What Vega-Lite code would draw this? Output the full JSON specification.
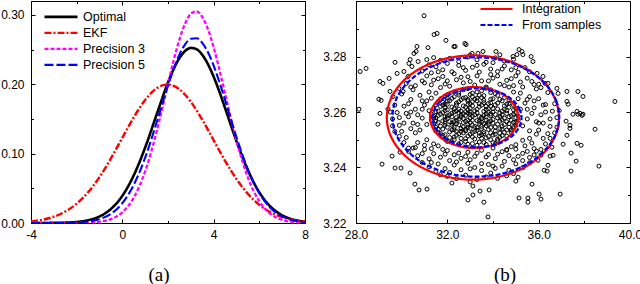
{
"$schema":"https://vega.github.io/schema/vega-lite/v6.json",
"padding":{"left":0,"top":0,"right":0,"bottom":0},
"background":"white",
"spacing":13,
"resolve":{"scale":{"color":"independent","strokeDash":"independent","strokeWidth":"independent"},"legend":{"color":"independent","strokeDash":"independent"}},
"config":{
 "view":{"stroke":"black","strokeWidth":1},
 "axis":{"grid":false,"domainColor":"black","tickColor":"black","labelColor":"black","labelFont":"Liberation Sans","labelFontSize":12,"labelFlush":false,"labelOverlap":false,"title":null,"tickWidth":1},
 "legend":{"labelFont":"Liberation Sans","labelFontSize":12.5,"labelColor":"black"},
 "title":{"font":"Liberation Serif","fontSize":19,"fontWeight":"normal","color":"black"}
},
"datasets":{
 "dens":[
  {"s":"Optimal","x":-4,"d":0.00001},{"s":"Optimal","x":-3.5,"d":0.00005},{"s":"Optimal","x":-3,"d":0.00017},{"s":"Optimal","x":-2.5,"d":0.00053},{"s":"Optimal","x":-2,"d":0.0015},{"s":"Optimal","x":-1.5,"d":0.004},{"s":"Optimal","x":-1,"d":0.0094},{"s":"Optimal","x":-0.5,"d":0.0202},{"s":"Optimal","x":0,"d":0.0392},{"s":"Optimal","x":0.5,"d":0.0687},{"s":"Optimal","x":1,"d":0.1088},{"s":"Optimal","x":1.5,"d":0.1561},{"s":"Optimal","x":2,"d":0.2025},{"s":"Optimal","x":2.25,"d":0.2221},{"s":"Optimal","x":2.5,"d":0.2377},{"s":"Optimal","x":2.75,"d":0.248},{"s":"Optimal","x":3,"d":0.2524},{"s":"Optimal","x":3.25,"d":0.2505},{"s":"Optimal","x":3.5,"d":0.2425},{"s":"Optimal","x":3.75,"d":0.2289},{"s":"Optimal","x":4,"d":0.2108},{"s":"Optimal","x":4.25,"d":0.1893},{"s":"Optimal","x":4.5,"d":0.1657},{"s":"Optimal","x":5,"d":0.1179},{"s":"Optimal","x":5.5,"d":0.0759},{"s":"Optimal","x":6,"d":0.0442},{"s":"Optimal","x":6.5,"d":0.0233},{"s":"Optimal","x":7,"d":0.0111},{"s":"Optimal","x":7.5,"d":0.0048},{"s":"Optimal","x":8,"d":0.0019},
  {"s":"EKF","x":-4,"d":0.0023},{"s":"EKF","x":-3.5,"d":0.0047},{"s":"EKF","x":-3,"d":0.0091},{"s":"EKF","x":-2.5,"d":0.0164},{"s":"EKF","x":-2,"d":0.0278},{"s":"EKF","x":-1.5,"d":0.0443},{"s":"EKF","x":-1,"d":0.0662},{"s":"EKF","x":-0.5,"d":0.0931},{"s":"EKF","x":0,"d":0.1228},{"s":"EKF","x":0.5,"d":0.1523},{"s":"EKF","x":1,"d":0.1773},{"s":"EKF","x":1.5,"d":0.1941},{"s":"EKF","x":1.75,"d":0.1983},{"s":"EKF","x":2,"d":0.1995},{"s":"EKF","x":2.25,"d":0.1975},{"s":"EKF","x":2.5,"d":0.1926},{"s":"EKF","x":2.75,"d":0.1849},{"s":"EKF","x":3,"d":0.1747},{"s":"EKF","x":3.5,"d":0.1489},{"s":"EKF","x":4,"d":0.1192},{"s":"EKF","x":4.5,"d":0.0896},{"s":"EKF","x":5,"d":0.0633},{"s":"EKF","x":5.5,"d":0.042},{"s":"EKF","x":6,"d":0.0262},{"s":"EKF","x":6.5,"d":0.0153},{"s":"EKF","x":7,"d":0.0084},{"s":"EKF","x":7.5,"d":0.0044},{"s":"EKF","x":8,"d":0.0021},
  {"s":"Precision 3","x":-4,"d":0},{"s":"Precision 3","x":-3.5,"d":0},{"s":"Precision 3","x":-3,"d":0.00001},{"s":"Precision 3","x":-2.5,"d":0.00002},{"s":"Precision 3","x":-2,"d":0.00012},{"s":"Precision 3","x":-1.5,"d":0.00049},{"s":"Precision 3","x":-1,"d":0.0018},{"s":"Precision 3","x":-0.5,"d":0.0056},{"s":"Precision 3","x":0,"d":0.0154},{"s":"Precision 3","x":0.5,"d":0.0365},{"s":"Precision 3","x":1,"d":0.0744},{"s":"Precision 3","x":1.5,"d":0.1314},{"s":"Precision 3","x":2,"d":0.2005},{"s":"Precision 3","x":2.25,"d":0.2345},{"s":"Precision 3","x":2.5,"d":0.2644},{"s":"Precision 3","x":2.75,"d":0.2875},{"s":"Precision 3","x":3,"d":0.3015},{"s":"Precision 3","x":3.25,"d":0.305},{"s":"Precision 3","x":3.5,"d":0.2971},{"s":"Precision 3","x":3.75,"d":0.2793},{"s":"Precision 3","x":4,"d":0.2532},{"s":"Precision 3","x":4.25,"d":0.2212},{"s":"Precision 3","x":4.5,"d":0.1864},{"s":"Precision 3","x":5,"d":0.1187},{"s":"Precision 3","x":5.5,"d":0.0653},{"s":"Precision 3","x":6,"d":0.0311},{"s":"Precision 3","x":6.5,"d":0.0128},{"s":"Precision 3","x":7,"d":0.0045},{"s":"Precision 3","x":7.5,"d":0.0014},{"s":"Precision 3","x":8,"d":0.0004},
  {"s":"Precision 5","x":-4,"d":0.000003},{"s":"Precision 5","x":-3.5,"d":0.00001},{"s":"Precision 5","x":-3,"d":0.00005},{"s":"Precision 5","x":-2.5,"d":0.0002},{"s":"Precision 5","x":-2,"d":0.0007},{"s":"Precision 5","x":-1.5,"d":0.0021},{"s":"Precision 5","x":-1,"d":0.0055},{"s":"Precision 5","x":-0.5,"d":0.0133},{"s":"Precision 5","x":0,"d":0.0286},{"s":"Precision 5","x":0.5,"d":0.0549},{"s":"Precision 5","x":1,"d":0.0943},{"s":"Precision 5","x":1.5,"d":0.1446},{"s":"Precision 5","x":2,"d":0.1982},{"s":"Precision 5","x":2.25,"d":0.2225},{"s":"Precision 5","x":2.5,"d":0.2427},{"s":"Precision 5","x":2.75,"d":0.2575},{"s":"Precision 5","x":3,"d":0.2656},{"s":"Precision 5","x":3.25,"d":0.2664},{"s":"Precision 5","x":3.5,"d":0.2597},{"s":"Precision 5","x":3.75,"d":0.2462},{"s":"Precision 5","x":4,"d":0.2269},{"s":"Precision 5","x":4.25,"d":0.2033},{"s":"Precision 5","x":4.5,"d":0.1771},{"s":"Precision 5","x":5,"d":0.1235},{"s":"Precision 5","x":5.5,"d":0.077},{"s":"Precision 5","x":6,"d":0.0429},{"s":"Precision 5","x":6.5,"d":0.0213},{"s":"Precision 5","x":7,"d":0.0095},{"s":"Precision 5","x":7.5,"d":0.0038},{"s":"Precision 5","x":8,"d":0.0013}
 ],
 "ell":[
  {"s":"Integration","g":"r1","k":0,"x":36.89,"y":3.258},{"s":"Integration","g":"r1","k":1,"x":36.76,"y":3.2638},{"s":"Integration","g":"r1","k":2,"x":36.39,"y":3.2692},{"s":"Integration","g":"r1","k":3,"x":35.79,"y":3.2738},{"s":"Integration","g":"r1","k":4,"x":35.01,"y":3.2774},{"s":"Integration","g":"r1","k":5,"x":34.1,"y":3.2796},{"s":"Integration","g":"r1","k":6,"x":33.12,"y":3.2804},{"s":"Integration","g":"r1","k":7,"x":32.14,"y":3.2796},{"s":"Integration","g":"r1","k":8,"x":31.24,"y":3.2774},{"s":"Integration","g":"r1","k":9,"x":30.45,"y":3.2738},{"s":"Integration","g":"r1","k":10,"x":29.86,"y":3.2692},{"s":"Integration","g":"r1","k":11,"x":29.48,"y":3.2638},{"s":"Integration","g":"r1","k":12,"x":29.35,"y":3.258},{"s":"Integration","g":"r1","k":13,"x":29.48,"y":3.2522},{"s":"Integration","g":"r1","k":14,"x":29.86,"y":3.2468},{"s":"Integration","g":"r1","k":15,"x":30.45,"y":3.2422},{"s":"Integration","g":"r1","k":16,"x":31.24,"y":3.2386},{"s":"Integration","g":"r1","k":17,"x":32.14,"y":3.2364},{"s":"Integration","g":"r1","k":18,"x":33.12,"y":3.2356},{"s":"Integration","g":"r1","k":19,"x":34.1,"y":3.2364},{"s":"Integration","g":"r1","k":20,"x":35.01,"y":3.2386},{"s":"Integration","g":"r1","k":21,"x":35.79,"y":3.2422},{"s":"Integration","g":"r1","k":22,"x":36.39,"y":3.2468},{"s":"Integration","g":"r1","k":23,"x":36.76,"y":3.2522},
  {"s":"Integration","g":"r2","k":0,"x":35.1,"y":3.258},{"s":"Integration","g":"r2","k":1,"x":35.03,"y":3.2609},{"s":"Integration","g":"r2","k":2,"x":34.84,"y":3.2635},{"s":"Integration","g":"r2","k":3,"x":34.54,"y":3.2658},{"s":"Integration","g":"r2","k":4,"x":34.14,"y":3.2675},{"s":"Integration","g":"r2","k":5,"x":33.67,"y":3.2686},{"s":"Integration","g":"r2","k":6,"x":33.17,"y":3.269},{"s":"Integration","g":"r2","k":7,"x":32.67,"y":3.2686},{"s":"Integration","g":"r2","k":8,"x":32.21,"y":3.2675},{"s":"Integration","g":"r2","k":9,"x":31.81,"y":3.2658},{"s":"Integration","g":"r2","k":10,"x":31.5,"y":3.2635},{"s":"Integration","g":"r2","k":11,"x":31.31,"y":3.2609},{"s":"Integration","g":"r2","k":12,"x":31.24,"y":3.258},{"s":"Integration","g":"r2","k":13,"x":31.31,"y":3.2552},{"s":"Integration","g":"r2","k":14,"x":31.5,"y":3.2525},{"s":"Integration","g":"r2","k":15,"x":31.81,"y":3.2502},{"s":"Integration","g":"r2","k":16,"x":32.21,"y":3.2485},{"s":"Integration","g":"r2","k":17,"x":32.67,"y":3.2474},{"s":"Integration","g":"r2","k":18,"x":33.17,"y":3.247},{"s":"Integration","g":"r2","k":19,"x":33.67,"y":3.2474},{"s":"Integration","g":"r2","k":20,"x":34.14,"y":3.2485},{"s":"Integration","g":"r2","k":21,"x":34.54,"y":3.2502},{"s":"Integration","g":"r2","k":22,"x":34.84,"y":3.2525},{"s":"Integration","g":"r2","k":23,"x":35.03,"y":3.2552},
  {"s":"From samples","g":"b1","k":0,"x":36.9,"y":3.2582},{"s":"From samples","g":"b1","k":1,"x":36.78,"y":3.2638},{"s":"From samples","g":"b1","k":2,"x":36.41,"y":3.269},{"s":"From samples","g":"b1","k":3,"x":35.83,"y":3.2734},{"s":"From samples","g":"b1","k":4,"x":35.08,"y":3.2768},{"s":"From samples","g":"b1","k":5,"x":34.2,"y":3.279},{"s":"From samples","g":"b1","k":6,"x":33.25,"y":3.2797},{"s":"From samples","g":"b1","k":7,"x":32.31,"y":3.279},{"s":"From samples","g":"b1","k":8,"x":31.43,"y":3.2768},{"s":"From samples","g":"b1","k":9,"x":30.67,"y":3.2734},{"s":"From samples","g":"b1","k":10,"x":30.09,"y":3.269},{"s":"From samples","g":"b1","k":11,"x":29.72,"y":3.2638},{"s":"From samples","g":"b1","k":12,"x":29.6,"y":3.2582},{"s":"From samples","g":"b1","k":13,"x":29.72,"y":3.2526},{"s":"From samples","g":"b1","k":14,"x":30.09,"y":3.2475},{"s":"From samples","g":"b1","k":15,"x":30.67,"y":3.243},{"s":"From samples","g":"b1","k":16,"x":31.43,"y":3.2396},{"s":"From samples","g":"b1","k":17,"x":32.31,"y":3.2374},{"s":"From samples","g":"b1","k":18,"x":33.25,"y":3.2367},{"s":"From samples","g":"b1","k":19,"x":34.2,"y":3.2374},{"s":"From samples","g":"b1","k":20,"x":35.08,"y":3.2396},{"s":"From samples","g":"b1","k":21,"x":35.83,"y":3.243},{"s":"From samples","g":"b1","k":22,"x":36.41,"y":3.2475},{"s":"From samples","g":"b1","k":23,"x":36.78,"y":3.2526},
  {"s":"From samples","g":"b2","k":0,"x":35.25,"y":3.2579},{"s":"From samples","g":"b2","k":1,"x":35.18,"y":3.2606},{"s":"From samples","g":"b2","k":2,"x":34.99,"y":3.2632},{"s":"From samples","g":"b2","k":3,"x":34.68,"y":3.2654},{"s":"From samples","g":"b2","k":4,"x":34.28,"y":3.2671},{"s":"From samples","g":"b2","k":5,"x":33.81,"y":3.2681},{"s":"From samples","g":"b2","k":6,"x":33.3,"y":3.2685},{"s":"From samples","g":"b2","k":7,"x":32.8,"y":3.2681},{"s":"From samples","g":"b2","k":8,"x":32.33,"y":3.2671},{"s":"From samples","g":"b2","k":9,"x":31.92,"y":3.2654},{"s":"From samples","g":"b2","k":10,"x":31.61,"y":3.2632},{"s":"From samples","g":"b2","k":11,"x":31.42,"y":3.2606},{"s":"From samples","g":"b2","k":12,"x":31.35,"y":3.2579},{"s":"From samples","g":"b2","k":13,"x":31.42,"y":3.2552},{"s":"From samples","g":"b2","k":14,"x":31.61,"y":3.2526},{"s":"From samples","g":"b2","k":15,"x":31.92,"y":3.2504},{"s":"From samples","g":"b2","k":16,"x":32.33,"y":3.2487},{"s":"From samples","g":"b2","k":17,"x":32.8,"y":3.2477},{"s":"From samples","g":"b2","k":18,"x":33.3,"y":3.2473},{"s":"From samples","g":"b2","k":19,"x":33.81,"y":3.2477},{"s":"From samples","g":"b2","k":20,"x":34.28,"y":3.2487},{"s":"From samples","g":"b2","k":21,"x":34.68,"y":3.2504},{"s":"From samples","g":"b2","k":22,"x":34.99,"y":3.2526},{"s":"From samples","g":"b2","k":23,"x":35.18,"y":3.2552}
 ],
 "pts":[
  {"x":30.98,"y":3.2947},{"x":31.42,"y":3.2879},{"x":31.55,"y":3.2883},{"x":31.15,"y":3.2832},{"x":30.67,"y":3.2836},{"x":30.63,"y":3.2818},{"x":30.54,"y":3.2811},{"x":29.71,"y":3.2779},{"x":28.18,"y":3.2746},{"x":28.44,"y":3.2757},{"x":29.05,"y":3.271},{"x":29.18,"y":3.2703},{"x":29.45,"y":3.2721},{"x":29.1,"y":3.2642},{"x":29.0,"y":3.2646},{"x":28.13,"y":3.261},{"x":30.32,"y":3.2775},{"x":30.72,"y":3.2782},{"x":29.88,"y":3.2685},{"x":29.49,"y":3.2674},{"x":29.62,"y":3.2656},{"x":29.4,"y":3.261},{"x":31.94,"y":3.2858},{"x":32.34,"y":3.2836},{"x":32.77,"y":3.2847},{"x":32.82,"y":3.2843},{"x":33.08,"y":3.2811},{"x":33.56,"y":3.2818},{"x":35.14,"y":3.2825},{"x":35.27,"y":3.2818},{"x":35.05,"y":3.2807},{"x":35.31,"y":3.2807},{"x":34.88,"y":3.28},{"x":35.93,"y":3.2739},{"x":36.19,"y":3.2728},{"x":36.28,"y":3.2703},{"x":36.41,"y":3.2703},{"x":36.8,"y":3.2685},{"x":36.85,"y":3.2667},{"x":37.24,"y":3.2674},{"x":37.72,"y":3.2674},{"x":37.94,"y":3.2656},{"x":39.34,"y":3.2638},{"x":37.24,"y":3.2638},{"x":37.29,"y":3.2628},{"x":37.68,"y":3.2602},{"x":37.81,"y":3.2595},{"x":37.94,"y":3.2592},{"x":38.47,"y":3.2538},{"x":37.2,"y":3.2567},{"x":37.37,"y":3.2541},{"x":35.67,"y":3.28},{"x":35.75,"y":3.2782},{"x":34.13,"y":3.2818},{"x":33.34,"y":3.2811},{"x":32.29,"y":3.2836},{"x":30.1,"y":3.2746},{"x":30.28,"y":3.2728},{"x":30.06,"y":3.2674},{"x":30.45,"y":3.2764},{"x":29.8,"y":3.2739},{"x":31.1,"y":3.2789},{"x":30.37,"y":3.2789},{"x":28.96,"y":3.2556},{"x":29.05,"y":3.2595},
  {"x":29.14,"y":3.2412},{"x":29.58,"y":3.2441},{"x":29.71,"y":3.2398},{"x":29.97,"y":3.2398},{"x":30.37,"y":3.238},{"x":30.58,"y":3.234},{"x":30.76,"y":3.2319},{"x":31.11,"y":3.2322},{"x":29.93,"y":3.2455},{"x":32.2,"y":3.2344},{"x":32.9,"y":3.2283},{"x":33.12,"y":3.2301},{"x":33.43,"y":3.2315},{"x":33.6,"y":3.2275},{"x":33.83,"y":3.2319},{"x":33.78,"y":3.2222},{"x":35.0,"y":3.2351},{"x":35.71,"y":3.234},{"x":35.14,"y":3.229},{"x":35.53,"y":3.229},{"x":35.53,"y":3.2275},{"x":36.02,"y":3.2304},{"x":36.1,"y":3.2286},{"x":36.94,"y":3.2304},{"x":37.42,"y":3.2387},{"x":37.64,"y":3.2423},{"x":37.42,"y":3.2452},{"x":38.64,"y":3.2405},{"x":36.37,"y":3.2387},{"x":36.5,"y":3.2441},{"x":33.12,"y":3.2333},{"x":37.68,"y":3.2487},{"x":37.86,"y":3.248},{"x":37.07,"y":3.2484},{"x":37.24,"y":3.2516},{"x":37.37,"y":3.2552},{"x":37.5,"y":3.2592},{"x":37.72,"y":3.2592},{"x":37.9,"y":3.2588},{"x":36.63,"y":3.2444},{"x":36.41,"y":3.2408},{"x":36.24,"y":3.239},{"x":36.58,"y":3.2473},{"x":35.97,"y":3.2426},
  {"x":30.2,"y":3.2703},{"x":30.6,"y":3.2695},{"x":30.9,"y":3.2712},{"x":31.3,"y":3.2698},{"x":31.6,"y":3.272},{"x":31.9,"y":3.2701},{"x":32.1,"y":3.2693},{"x":32.4,"y":3.2716},{"x":32.7,"y":3.2705},{"x":32.9,"y":3.2727},{"x":33.2,"y":3.2697},{"x":33.5,"y":3.2712},{"x":33.7,"y":3.269},{"x":34.0,"y":3.2722},{"x":34.3,"y":3.27},{"x":34.6,"y":3.2714},{"x":34.9,"y":3.2695},{"x":35.2,"y":3.2708},{"x":35.5,"y":3.2722},{"x":35.8,"y":3.2699},{"x":36.1,"y":3.2688},{"x":31.1,"y":3.273},{"x":33.9,"y":3.2735},{"x":35.0,"y":3.273},{"x":32.3,"y":3.2738},
  {"x":30.9,"y":3.2748},{"x":31.3,"y":3.2741},{"x":31.5,"y":3.2763},{"x":31.8,"y":3.2752},{"x":32.2,"y":3.2745},{"x":32.5,"y":3.2768},{"x":32.8,"y":3.275},{"x":33.1,"y":3.2761},{"x":33.4,"y":3.2744},{"x":33.6,"y":3.2772},{"x":33.9,"y":3.2755},{"x":34.2,"y":3.2746},{"x":34.5,"y":3.2766},{"x":34.8,"y":3.2752},{"x":35.1,"y":3.2743},{"x":35.4,"y":3.276},{"x":32.0,"y":3.2775},{"x":34.0,"y":3.2778},{"x":31.2,"y":3.277},{"x":35.6,"y":3.2745},
  {"x":31.7,"y":3.2786},{"x":32.1,"y":3.2793},{"x":32.5,"y":3.2781},{"x":32.9,"y":3.2798},{"x":33.3,"y":3.2788},{"x":33.7,"y":3.2779},{"x":34.1,"y":3.2795},{"x":34.5,"y":3.2784},{"x":31.4,"y":3.2796},{"x":34.9,"y":3.279},{"x":33.0,"y":3.2805},{"x":34.3,"y":3.2806},
  {"x":30.3,"y":3.2458},{"x":30.7,"y":3.2442},{"x":31.0,"y":3.2465},{"x":31.4,"y":3.245},{"x":31.7,"y":3.2437},{"x":32.0,"y":3.2461},{"x":32.3,"y":3.2446},{"x":32.6,"y":3.2433},{"x":32.9,"y":3.2455},{"x":33.2,"y":3.244},{"x":33.5,"y":3.2462},{"x":33.8,"y":3.2447},{"x":34.1,"y":3.2432},{"x":34.4,"y":3.2457},{"x":34.7,"y":3.2443},{"x":35.0,"y":3.2466},{"x":35.3,"y":3.2451},{"x":35.6,"y":3.2436},{"x":35.9,"y":3.2459},{"x":36.1,"y":3.2445},{"x":31.2,"y":3.2431},{"x":33.0,"y":3.2428},{"x":34.9,"y":3.2428},{"x":32.1,"y":3.2425},{"x":34.0,"y":3.247},
  {"x":30.9,"y":3.2418},{"x":31.2,"y":3.2402},{"x":31.6,"y":3.2413},{"x":31.9,"y":3.2396},{"x":32.3,"y":3.2409},{"x":32.6,"y":3.2392},{"x":32.9,"y":3.2415},{"x":33.2,"y":3.24},{"x":33.5,"y":3.2389},{"x":33.8,"y":3.2411},{"x":34.1,"y":3.2397},{"x":34.4,"y":3.2405},{"x":34.7,"y":3.239},{"x":35.0,"y":3.2413},{"x":35.3,"y":3.2399},{"x":35.6,"y":3.2417},{"x":32.1,"y":3.2382},{"x":33.9,"y":3.238},{"x":31.5,"y":3.2385},{"x":34.9,"y":3.2378},
  {"x":32.0,"y":3.2368},{"x":32.4,"y":3.236},{"x":32.8,"y":3.2372},{"x":33.3,"y":3.2357},{"x":33.7,"y":3.2366},{"x":34.2,"y":3.2361},{"x":34.6,"y":3.237},{"x":31.7,"y":3.2374},{"x":35.1,"y":3.2365},{"x":33.0,"y":3.2348},
  {"x":29.6,"y":3.2575},{"x":29.8,"y":3.2598},{"x":29.9,"y":3.2552},{"x":30.1,"y":3.2621},{"x":30.0,"y":3.253},{"x":30.3,"y":3.2583},{"x":30.4,"y":3.2645},{"x":30.2,"y":3.2508},{"x":30.5,"y":3.256},{"x":30.6,"y":3.261},{"x":30.7,"y":3.249},{"x":30.8,"y":3.266},{"x":30.9,"y":3.2578},{"x":30.8,"y":3.2535},{"x":31.0,"y":3.2625},{"x":31.1,"y":3.25},{"x":31.2,"y":3.2672},{"x":31.0,"y":3.248},{"x":31.3,"y":3.265},{"x":31.4,"y":3.2485},{"x":31.5,"y":3.2668},{"x":31.6,"y":3.2478},{"x":29.7,"y":3.2625},{"x":29.7,"y":3.253},{"x":30.0,"y":3.2665},{"x":30.1,"y":3.249},{"x":30.5,"y":3.268},{"x":30.6,"y":3.2472},{"x":29.5,"y":3.26},{"x":29.6,"y":3.255},{"x":30.2,"y":3.2595},{"x":30.4,"y":3.254},{"x":30.7,"y":3.259},{"x":30.9,"y":3.264},{"x":31.1,"y":3.2555},{"x":31.2,"y":3.2605},{"x":29.9,"y":3.2512},{"x":30.3,"y":3.247},{"x":31.7,"y":3.2688},{"x":31.8,"y":3.2465},
  {"x":36.8,"y":3.258},{"x":36.6,"y":3.2603},{"x":36.5,"y":3.2548},{"x":36.3,"y":3.2627},{"x":36.4,"y":3.2522},{"x":36.1,"y":3.259},{"x":36.0,"y":3.2648},{"x":36.2,"y":3.2505},{"x":35.9,"y":3.2565},{"x":35.8,"y":3.2615},{"x":35.7,"y":3.2488},{"x":35.6,"y":3.2655},{"x":35.5,"y":3.2575},{"x":35.6,"y":3.2532},{"x":35.4,"y":3.2632},{"x":35.3,"y":3.2498},{"x":35.2,"y":3.2668},{"x":35.4,"y":3.2478},{"x":35.1,"y":3.2648},{"x":35.0,"y":3.2482},{"x":34.9,"y":3.2672},{"x":34.8,"y":3.2475},{"x":36.7,"y":3.263},{"x":36.7,"y":3.2525},{"x":36.4,"y":3.267},{"x":36.3,"y":3.2485},{"x":35.9,"y":3.2683},{"x":35.8,"y":3.2468},{"x":36.9,"y":3.2605},{"x":36.8,"y":3.2545},{"x":36.2,"y":3.256},{"x":36.0,"y":3.2535},{"x":35.7,"y":3.2595},{"x":35.5,"y":3.2645},{"x":35.3,"y":3.255},{"x":35.2,"y":3.261},{"x":36.5,"y":3.2505},{"x":36.1,"y":3.2465},{"x":34.7,"y":3.269},{"x":34.6,"y":3.2462},
  {"x":32.3,"y":3.2672},{"x":32.7,"y":3.268},{"x":33.1,"y":3.2668},{"x":33.5,"y":3.2677},{"x":33.9,"y":3.267},{"x":32.9,"y":3.2684},{"x":33.7,"y":3.2686},
  {"x":31.9,"y":3.2657},{"x":32.2,"y":3.2649},{"x":32.5,"y":3.2661},{"x":32.8,"y":3.2652},{"x":33.0,"y":3.2663},{"x":33.3,"y":3.265},{"x":33.6,"y":3.2659},{"x":33.9,"y":3.2646},{"x":34.2,"y":3.266},{"x":34.5,"y":3.2652},
  {"x":31.6,"y":3.2638},{"x":31.9,"y":3.2629},{"x":32.1,"y":3.2641},{"x":32.4,"y":3.2632},{"x":32.6,"y":3.2644},{"x":32.9,"y":3.2627},{"x":33.1,"y":3.2637},{"x":33.4,"y":3.263},{"x":33.6,"y":3.2642},{"x":33.9,"y":3.2633},{"x":34.1,"y":3.2626},{"x":34.4,"y":3.264},{"x":34.7,"y":3.2631},{"x":33.2,"y":3.2646},
  {"x":31.4,"y":3.2612},{"x":31.7,"y":3.262},{"x":32.0,"y":3.2608},{"x":32.2,"y":3.2618},{"x":32.5,"y":3.261},{"x":32.7,"y":3.2622},{"x":33.0,"y":3.2613},{"x":33.2,"y":3.2604},{"x":33.4,"y":3.2619},{"x":33.7,"y":3.2609},{"x":33.9,"y":3.2621},{"x":34.2,"y":3.2611},{"x":34.4,"y":3.2603},{"x":34.7,"y":3.2617},{"x":34.9,"y":3.2608},{"x":32.8,"y":3.2601},
  {"x":31.3,"y":3.2593},{"x":31.6,"y":3.2587},{"x":31.8,"y":3.2598},{"x":32.1,"y":3.259},{"x":32.3,"y":3.26},{"x":32.6,"y":3.2589},{"x":32.9,"y":3.2596},{"x":33.1,"y":3.2585},{"x":33.3,"y":3.2597},{"x":33.6,"y":3.2588},{"x":33.8,"y":3.2599},{"x":34.1,"y":3.2591},{"x":34.3,"y":3.2584},{"x":34.6,"y":3.2595},{"x":34.8,"y":3.2587},{"x":35.0,"y":3.2598},{"x":33.5,"y":3.2581},
  {"x":31.3,"y":3.2572},{"x":31.5,"y":3.2579},{"x":31.8,"y":3.2568},{"x":32.0,"y":3.2577},{"x":32.3,"y":3.2565},{"x":32.5,"y":3.2574},{"x":32.8,"y":3.2566},{"x":33.0,"y":3.2578},{"x":33.3,"y":3.2569},{"x":33.5,"y":3.2576},{"x":33.8,"y":3.2564},{"x":34.0,"y":3.2573},{"x":34.3,"y":3.2567},{"x":34.5,"y":3.2578},{"x":34.8,"y":3.257},{"x":35.0,"y":3.2562},{"x":32.6,"y":3.2582},
  {"x":31.4,"y":3.2557},{"x":31.7,"y":3.2549},{"x":31.9,"y":3.256},{"x":32.2,"y":3.2552},{"x":32.4,"y":3.2558},{"x":32.7,"y":3.2546},{"x":32.9,"y":3.2555},{"x":33.2,"y":3.2548},{"x":33.4,"y":3.2559},{"x":33.7,"y":3.2551},{"x":33.9,"y":3.2544},{"x":34.2,"y":3.2556},{"x":34.4,"y":3.2549},{"x":34.7,"y":3.2558},{"x":34.9,"y":3.2547},{"x":33.0,"y":3.2541},
  {"x":31.5,"y":3.2532},{"x":31.8,"y":3.2539},{"x":32.1,"y":3.2528},{"x":32.3,"y":3.2536},{"x":32.6,"y":3.253},{"x":32.8,"y":3.2538},{"x":33.1,"y":3.2526},{"x":33.3,"y":3.2534},{"x":33.6,"y":3.2529},{"x":33.8,"y":3.2537},{"x":34.1,"y":3.2531},{"x":34.3,"y":3.2524},{"x":34.6,"y":3.2535},{"x":34.8,"y":3.2528},{"x":33.5,"y":3.254},
  {"x":31.8,"y":3.2515},{"x":32.1,"y":3.2508},{"x":32.4,"y":3.2516},{"x":32.6,"y":3.2505},{"x":32.9,"y":3.2513},{"x":33.2,"y":3.2503},{"x":33.4,"y":3.2514},{"x":33.7,"y":3.2507},{"x":34.0,"y":3.2517},{"x":34.3,"y":3.2509},{"x":34.6,"y":3.2513},{"x":33.0,"y":3.252},
  {"x":32.2,"y":3.2492},{"x":32.5,"y":3.2485},{"x":32.8,"y":3.2494},{"x":33.1,"y":3.2486},{"x":33.4,"y":3.2492},{"x":33.7,"y":3.2483},{"x":34.0,"y":3.249},{"x":34.2,"y":3.2496},
  {"x":32.4,"y":3.2625},{"x":32.9,"y":3.264},{"x":33.5,"y":3.2625},{"x":34.0,"y":3.2612},{"x":31.9,"y":3.2605},{"x":32.6,"y":3.2603},{"x":33.1,"y":3.2622},{"x":33.8,"y":3.263},{"x":34.5,"y":3.2622},{"x":31.6,"y":3.2603},
  {"x":32.2,"y":3.2583},{"x":32.7,"y":3.2577},{"x":33.2,"y":3.259},{"x":33.7,"y":3.2582},{"x":34.2,"y":3.2579},{"x":34.7,"y":3.2583},{"x":31.9,"y":3.2583},{"x":33.4,"y":3.2566},{"x":32.9,"y":3.257},{"x":34.0,"y":3.256},
  {"x":31.6,"y":3.2563},{"x":32.1,"y":3.2565},{"x":32.5,"y":3.2554},{"x":33.0,"y":3.2562},{"x":33.6,"y":3.2557},{"x":34.1,"y":3.2546},{"x":34.6,"y":3.2565},{"x":32.8,"y":3.2532},{"x":33.3,"y":3.2544},{"x":33.9,"y":3.2525},
  {"x":32.0,"y":3.2545},{"x":32.5,"y":3.2522},{"x":31.7,"y":3.2522},{"x":34.4,"y":3.2538},{"x":33.5,"y":3.2518},{"x":32.3,"y":3.25},{"x":33.9,"y":3.25},{"x":32.7,"y":3.265},{"x":33.4,"y":3.266},{"x":34.0,"y":3.2648},
  {"x":32.0,"y":3.265},{"x":31.8,"y":3.2625},{"x":34.6,"y":3.2605},{"x":35.0,"y":3.258},{"x":31.4,"y":3.2585},{"x":31.5,"y":3.2545},{"x":34.9,"y":3.254},{"x":33.8,"y":3.2612},{"x":32.3,"y":3.2612},{"x":33.0,"y":3.26},
  {"x":32.5,"y":3.2668},{"x":33.3,"y":3.2672},{"x":32.0,"y":3.2662},{"x":34.1,"y":3.2666},{"x":33.9,"y":3.268},
  {"x":31.7,"y":3.2647},{"x":32.3,"y":3.2655},{"x":32.9,"y":3.2645},{"x":33.5,"y":3.2652},{"x":34.3,"y":3.2645},{"x":34.7,"y":3.2642},{"x":32.0,"y":3.264},{"x":33.1,"y":3.2655},
  {"x":31.5,"y":3.2626},{"x":32.0,"y":3.2628},{"x":32.5,"y":3.2637},{"x":33.0,"y":3.263},{"x":33.3,"y":3.264},{"x":33.7,"y":3.262},{"x":34.2,"y":3.2632},{"x":34.6,"y":3.2628},{"x":34.9,"y":3.2625},{"x":31.8,"y":3.2635},{"x":32.8,"y":3.2618},{"x":33.6,"y":3.2634},
  {"x":31.5,"y":3.2601},{"x":31.9,"y":3.2615},{"x":32.4,"y":3.2604},{"x":32.9,"y":3.2608},{"x":33.3,"y":3.261},{"x":33.6,"y":3.2602},{"x":34.0,"y":3.26},{"x":34.5,"y":3.261},{"x":35.0,"y":3.2612},{"x":32.2,"y":3.2596},{"x":32.7,"y":3.2594},{"x":33.9,"y":3.2593},{"x":34.3,"y":3.2596},
  {"x":31.4,"y":3.2578},{"x":31.7,"y":3.2592},{"x":32.0,"y":3.2586},{"x":32.4,"y":3.258},{"x":32.8,"y":3.2588},{"x":33.0,"y":3.2592},{"x":33.4,"y":3.2584},{"x":33.9,"y":3.2587},{"x":34.4,"y":3.259},{"x":34.9,"y":3.2592},{"x":35.1,"y":3.2585},{"x":32.5,"y":3.2597},{"x":33.7,"y":3.2594},
  {"x":31.5,"y":3.2568},{"x":31.9,"y":3.2572},{"x":32.2,"y":3.256},{"x":32.7,"y":3.2562},{"x":33.1,"y":3.257},{"x":33.5,"y":3.2563},{"x":33.9,"y":3.2568},{"x":34.4,"y":3.2572},{"x":34.9,"y":3.2563},{"x":35.1,"y":3.257},{"x":32.4,"y":3.257},{"x":33.7,"y":3.2571},
  {"x":31.6,"y":3.2538},{"x":31.9,"y":3.2552},{"x":32.3,"y":3.2545},{"x":32.6,"y":3.254},{"x":33.1,"y":3.2552},{"x":33.5,"y":3.2548},{"x":33.8,"y":3.2556},{"x":34.3,"y":3.254},{"x":34.7,"y":3.2545},{"x":35.0,"y":3.2552},{"x":32.9,"y":3.2545},{"x":34.5,"y":3.2555},
  {"x":31.6,"y":3.2525},{"x":31.9,"y":3.2518},{"x":32.2,"y":3.2535},{"x":32.7,"y":3.2525},{"x":33.2,"y":3.253},{"x":33.6,"y":3.2522},{"x":34.1,"y":3.252},{"x":34.5,"y":3.2527},{"x":34.8,"y":3.2536},{"x":32.4,"y":3.253},{"x":33.4,"y":3.2524},
  {"x":31.9,"y":3.2502},{"x":32.3,"y":3.251},{"x":32.8,"y":3.2504},{"x":33.1,"y":3.251},{"x":33.5,"y":3.2505},{"x":33.8,"y":3.2512},{"x":34.2,"y":3.2502},{"x":34.4,"y":3.2515},
  {"x":32.0,"y":3.2494},{"x":32.6,"y":3.249},{"x":32.9,"y":3.2484},{"x":33.3,"y":3.248},{"x":33.6,"y":3.249},{"x":34.1,"y":3.2485},
  {"x":30.4,"y":3.269},{"x":31.0,"y":3.2705},{"x":31.4,"y":3.2715},{"x":31.8,"y":3.2728},{"x":32.6,"y":3.2725},{"x":33.0,"y":3.271},{"x":33.3,"y":3.273},{"x":33.8,"y":3.2712},{"x":34.2,"y":3.273},{"x":34.5,"y":3.2695},{"x":34.8,"y":3.272},{"x":35.3,"y":3.269},{"x":35.7,"y":3.271},{"x":36.0,"y":3.27},{"x":32.0,"y":3.2712},{"x":31.6,"y":3.2745},{"x":32.7,"y":3.276},{"x":33.3,"y":3.2768},{"x":34.4,"y":3.2755},{"x":35.0,"y":3.276},
  {"x":30.5,"y":3.247},{"x":30.9,"y":3.245},{"x":31.3,"y":3.2468},{"x":31.9,"y":3.2448},{"x":32.5,"y":3.2452},{"x":32.8,"y":3.244},{"x":33.3,"y":3.2452},{"x":33.7,"y":3.2438},{"x":34.2,"y":3.2448},{"x":34.6,"y":3.2465},{"x":35.1,"y":3.244},{"x":35.5,"y":3.2458},{"x":35.8,"y":3.2445},{"x":31.3,"y":3.2418},{"x":32.4,"y":3.242},{"x":33.5,"y":3.2414},{"x":34.5,"y":3.2422},{"x":35.3,"y":3.2425},{"x":33.0,"y":3.2395},{"x":34.0,"y":3.2405},
  {"x":29.9,"y":3.258},{"x":30.1,"y":3.256},{"x":30.4,"y":3.26},{"x":30.6,"y":3.2525},{"x":30.9,"y":3.261},{"x":31.1,"y":3.264},{"x":30.3,"y":3.263},{"x":30.7,"y":3.2555},{"x":36.5,"y":3.2575},{"x":36.3,"y":3.26},{"x":36.0,"y":3.256},{"x":35.8,"y":3.264},{"x":35.5,"y":3.261},{"x":35.6,"y":3.2505},{"x":36.2,"y":3.2625},{"x":35.9,"y":3.252}
 ]
},
"hconcat":[
 {
  "width":274,"height":222,
  "title":{"text":"(a)","orient":"bottom","dx":-9,"offset":24},
  "data":{"name":"dens"},
  "layer":[
   {
    "mark":{"type":"line","interpolate":"monotone","clip":true},
    "encoding":{
     "x":{"field":"x","type":"quantitative","scale":{"domain":[-4,8],"nice":false,"zero":false},
      "axis":{"orient":"bottom","values":[-4,-2,0,2,4,6,8],"labelExpr":"datum.value % 4 === 0 ? '' + datum.value : ''","tickSize":{"condition":{"test":"datum.value % 4 === 0","value":-4},"value":-2.5},"labelPadding":10}},
     "y":{"field":"d","type":"quantitative","scale":{"domain":[0,0.32],"nice":false},
      "axis":{"orient":"left","values":[0,0.05,0.1,0.15,0.2,0.25,0.3],"labelExpr":"round(datum.value*100) % 10 === 0 ? format(datum.value,'.2f') : ''","tickSize":{"condition":{"test":"round(datum.value*100) % 10 === 0","value":-4},"value":-2.5},"labelPadding":11}},
     "color":{"field":"s","type":"nominal","scale":{"domain":["Optimal","EKF","Precision 3","Precision 5"],"range":["#000000","#ff0000","#ff00ff","#0000ff"]},
      "legend":{"orient":"none","legendX":12,"legendY":8,"title":null,"symbolType":"stroke","symbolSize":1089,"symbolStrokeWidth":2.2,"clipHeight":15.7,"rowPadding":0,"labelOffset":4}},
     "strokeDash":{"field":"s","type":"nominal","scale":{"domain":["Optimal","EKF","Precision 3","Precision 5"],"range":[[1,0],[7,2,2,2],[4,2],[9,3]]},
      "legend":{"orient":"none","legendX":12,"legendY":8,"title":null,"symbolType":"stroke","symbolSize":1089,"symbolStrokeWidth":2.2,"clipHeight":15.7,"rowPadding":0,"labelOffset":4}},
     "strokeWidth":{"field":"s","type":"nominal","scale":{"domain":["Optimal","EKF","Precision 3","Precision 5"],"range":[2.6,2.1,2.1,2.1]},"legend":null}
    }
   },
   {
    "mark":{"type":"line","opacity":0},
    "encoding":{
     "x":{"field":"x","type":"quantitative","axis":{"orient":"top","values":[-4,-2,0,2,4,6,8],"labels":false,"domain":false,"minExtent":0,"maxExtent":0,"tickSize":{"condition":{"test":"datum.value % 4 === 0","value":-4},"value":-2.5}}},
     "y":{"field":"d","type":"quantitative","axis":{"orient":"right","values":[0,0.05,0.1,0.15,0.2,0.25,0.3],"labels":false,"domain":false,"minExtent":0,"maxExtent":0,"tickSize":{"condition":{"test":"round(datum.value*100) % 10 === 0","value":-4},"value":-2.5}}},
     "detail":{"field":"s"}
    }
   }
  ],
  "resolve":{"axis":{"x":"independent","y":"independent"}}
 },
 {
  "width":274,"height":222,
  "title":{"text":"(b)","orient":"bottom","dx":12,"offset":24},
  "layer":[
   {
    "data":{"name":"pts"},
    "mark":{"type":"point","shape":"circle","filled":false,"size":16,"strokeWidth":1,"color":"black","opacity":1,"clip":true},
    "encoding":{
     "x":{"field":"x","type":"quantitative","scale":{"domain":[28,40],"nice":false,"zero":false},
      "axis":{"orient":"bottom","values":[28,30,32,34,36,38,40],"labelExpr":"datum.value % 4 === 0 ? format(datum.value,'.1f') : ''","tickSize":{"condition":{"test":"datum.value % 4 === 0","value":-4},"value":-2.5},"labelPadding":10}},
     "y":{"field":"y","type":"quantitative","scale":{"domain":[3.22,3.3],"nice":false,"zero":false},
      "axis":{"orient":"left","values":[3.22,3.23,3.24,3.25,3.26,3.27,3.28,3.29],"labelExpr":"round(datum.value*100) % 2 === 0 ? format(datum.value,'.2f') : ''","tickSize":{"condition":{"test":"round(datum.value*100) % 2 === 0","value":-4},"value":-2.5},"labelPadding":14}}
    }
   },
   {
    "data":{"name":"ell"},
    "mark":{"type":"line","interpolate":"cardinal-closed","strokeWidth":2.2,"clip":true},
    "encoding":{
     "x":{"field":"x","type":"quantitative","axis":{"orient":"top","values":[28,30,32,34,36,38,40],"labels":false,"domain":false,"minExtent":0,"maxExtent":0,"tickSize":{"condition":{"test":"datum.value % 4 === 0","value":-4},"value":-2.5}}},
     "y":{"field":"y","type":"quantitative","axis":{"orient":"right","values":[3.22,3.23,3.24,3.25,3.26,3.27,3.28,3.29],"labels":false,"domain":false,"minExtent":0,"maxExtent":0,"tickSize":{"condition":{"test":"round(datum.value*100) % 2 === 0","value":-4},"value":-2.5}}},
     "detail":{"field":"g"},
     "order":{"field":"k","type":"quantitative"},
     "color":{"field":"s","type":"nominal","scale":{"domain":["Integration","From samples"],"range":["#ff0000","#0000ff"]},
      "legend":{"orient":"none","legendX":123,"legendY":0,"title":null,"symbolType":"stroke","symbolSize":1024,"symbolStrokeWidth":2.2,"clipHeight":16,"rowPadding":0,"labelOffset":8}},
     "strokeDash":{"field":"s","type":"nominal","scale":{"domain":["Integration","From samples"],"range":[[1,0],[5,2]]},
      "legend":{"orient":"none","legendX":123,"legendY":0,"title":null,"symbolType":"stroke","symbolSize":1024,"symbolStrokeWidth":2.2,"clipHeight":16,"rowPadding":0,"labelOffset":8}}
    }
   }
  ],
  "resolve":{"axis":{"x":"independent","y":"independent"}}
 }
]
}
